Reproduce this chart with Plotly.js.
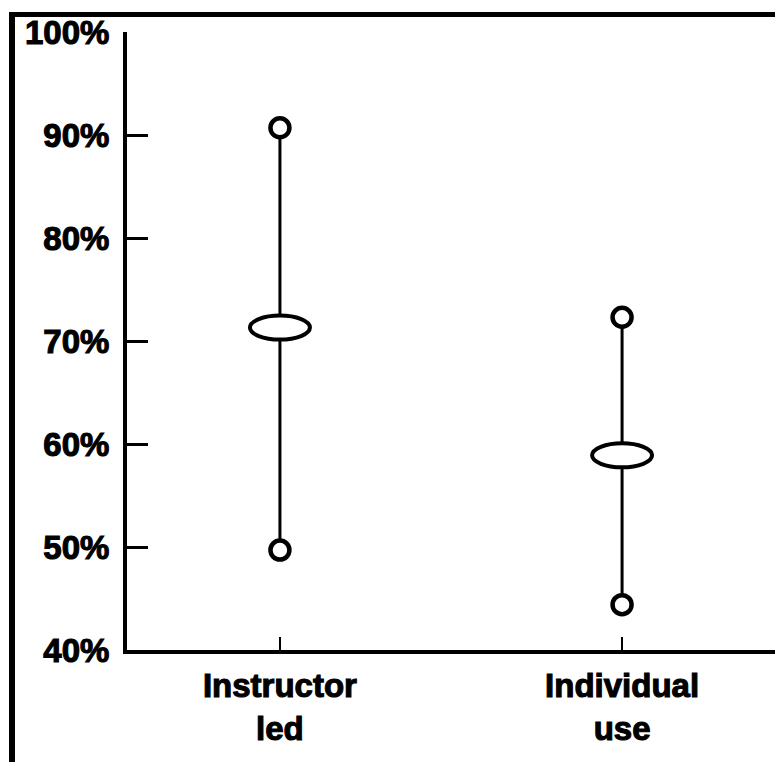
<!DOCTYPE html>
<html>
<head>
<meta charset="utf-8">
<script src="https://cdn.plot.ly/plotly-3.0.1.min.js"></script>
<style>
  html, body { margin: 0; padding: 0; background: #fff; }
  #wrap { position: relative; width: 775px; height: 762px; overflow: hidden; }
  #frame { position: absolute; left: 9px; top: 12px; width: 800px; height: 800px;
           border-left: 6px solid #000; border-top: 5px solid #000; box-sizing: border-box; }
  #chart { position: absolute; left: 0; top: 0; width: 775px; height: 762px; }
  #chart .xtick text, #chart .ytick text { stroke: #000; stroke-width: 1.1px; }
</style>
</head>
<body>
<div id="wrap">
  <div id="frame"></div>
  <div id="chart"></div>
</div>
<script>
// Data
const categories = ["Instructor<br>led", "Individual<br>use"];
const maxValues  = [90.7, 72.3];
const meanValues = [71.3, 58.9];
const minValues  = [49.7, 44.4];
const yTickValues = [40, 50, 60, 70, 80, 90, 100];

const FONT = "'Liberation Sans', Arial, Helvetica, sans-serif";

const traces = categories.map((c, i) => ({
  type: 'scatter',
  mode: 'lines+markers',
  x: [c, c],
  y: [minValues[i], maxValues[i]],
  line: { color: '#000', width: 3 },
  marker: { symbol: 'circle', size: 19, color: '#fff', line: { color: '#000', width: 4.5 } },
  cliponaxis: false,
  hoverinfo: 'skip',
  showlegend: false
}));

const shapes = categories.map((c, i) => ({
  type: 'circle',
  xref: 'x', yref: 'y',
  xsizemode: 'pixel', ysizemode: 'pixel',
  xanchor: i, yanchor: meanValues[i],
  x0: -30, x1: 30, y0: -12, y1: 12,
  fillcolor: '#fff',
  line: { color: '#000', width: 4 },
  layer: 'above'
}));

const layout = {
  width: 775, height: 762,
  margin: { l: 127, r: 0, t: 32, b: 112 },
  paper_bgcolor: 'rgba(0,0,0,0)',
  plot_bgcolor: 'rgba(0,0,0,0)',
  showlegend: false,
  font: { family: FONT, color: '#000' },
  xaxis: {
    type: 'category',
    categoryorder: 'array', categoryarray: categories,
    range: [-0.447, 1.447],
    showline: true, linecolor: '#000', linewidth: 3.5,
    ticks: 'inside', ticklen: 13, tickwidth: 2.5, tickcolor: '#000',
    showgrid: false, zeroline: false,
    tickfont: { family: FONT, size: 33, color: '#000', weight: 'bold' },
    ticklabelstandoff: 4,
    fixedrange: true
  },
  yaxis: {
    range: [40, 100],
    tickvals: yTickValues,
    ticktext: yTickValues.map(v => v + '%'),
    showline: true, linecolor: '#000', linewidth: 4,
    ticks: 'inside', ticklen: 21, tickwidth: 3, tickcolor: '#000',
    showgrid: false, zeroline: false,
    tickfont: { family: FONT, size: 33, color: '#000', weight: 'bold' },
    ticklabelstandoff: 7,
    fixedrange: true
  },
  shapes: shapes
};

Plotly.newPlot('chart', traces, layout, { displayModeBar: false, staticPlot: true });
</script>
</body>
</html>
